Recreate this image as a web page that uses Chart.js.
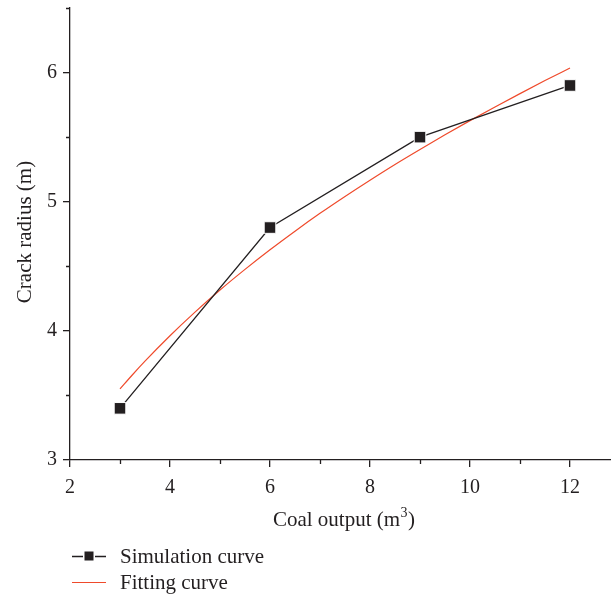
<!DOCTYPE html>
<html>
<head>
<meta charset="utf-8">
<script src="https://cdn.jsdelivr.net/npm/chart.js@4"></script>
<style>
html,body{margin:0;padding:0;background:#fff;}
#wrap{position:relative;width:611px;height:599px;}
</style>
</head>
<body>
<div id="wrap"><canvas id="c" width="611" height="599"></canvas></div>
<script>
// ---- data ----
const simX = [3, 6, 9, 12];
const simY = [3.40, 4.80, 5.50, 5.90];
const fitX = [3, 3.25, 3.5, 4, 4.5, 5, 5.5, 6, 6.5, 7, 7.5, 8, 8.5, 9, 9.5, 10, 10.5, 11, 11.5, 12];
const fitY = [3.55, 3.66, 3.765, 3.962, 4.145, 4.316, 4.476, 4.628, 4.772, 4.91, 5.041, 5.167, 5.289, 5.405, 5.518, 5.628, 5.734, 5.837, 5.938, 6.035];
const xTickValues = [2, 4, 6, 8, 10, 12];
const xMinorValues = [3, 5, 7, 9, 11];
const yTickValues = [3, 4, 5, 6];
const yMinorValues = [3.5, 4.5, 5.5, 6.5];
const seriesNames = ['Simulation curve', 'Fitting curve'];
const xTitle = 'Coal output (m';
const xTitleSup = '3';
const yTitle = 'Crack radius (m)';

const INK = '#231f20';
const RED = '#ef4a2b';
const FONT = 'Liberation Serif';

const extras = {
  id: 'extras',
  afterDraw(chart) {
    const ctx = chart.ctx;
    const xs = chart.scales.x, ys = chart.scales.y;
    const area = chart.chartArea;
    ctx.save();
    ctx.strokeStyle = INK;
    ctx.lineWidth = 1.3;
    ctx.beginPath();
    xMinorValues.forEach(v => {
      const px = Math.round(xs.getPixelForValue(v)) + 0.5;
      ctx.moveTo(px, area.bottom);
      ctx.lineTo(px, area.bottom + 4);
    });
    yMinorValues.forEach(v => {
      const py = Math.round(ys.getPixelForValue(v)) + 0.5;
      ctx.moveTo(area.left, py);
      ctx.lineTo(area.left - 4, py);
    });
    ctx.stroke();

    // x tick labels
    ctx.fillStyle = INK;
    ctx.font = '20px "' + FONT + '"';
    ctx.textAlign = 'center';
    ctx.textBaseline = 'alphabetic';
    xTickValues.forEach(v => {
      ctx.fillText(String(v), xs.getPixelForValue(v), 493);
    });

    // axis titles
    ctx.font = '21px "' + FONT + '"';
    ctx.textAlign = 'left';
    const mainW = ctx.measureText(xTitle).width;
    ctx.font = '14px "' + FONT + '"';
    const supW = ctx.measureText(xTitleSup).width;
    ctx.font = '21px "' + FONT + '"';
    const parW = ctx.measureText(')').width;
    const total = mainW + supW + parW + 1;
    let sx = 344 - total / 2;
    const by = 526;
    ctx.fillText(xTitle, sx, by);
    ctx.font = '14px "' + FONT + '"';
    ctx.fillText(xTitleSup, sx + mainW + 0.5, by - 9);
    ctx.font = '21px "' + FONT + '"';
    ctx.fillText(')', sx + mainW + supW + 1, by);

    ctx.save();
    ctx.translate(31, 232);
    ctx.rotate(-Math.PI / 2);
    ctx.textAlign = 'center';
    ctx.fillText(yTitle, 0, 0);
    ctx.restore();

    // legend
    const ly1 = 556, ly2 = 582;
    ctx.lineWidth = 1.3;
    ctx.strokeStyle = INK;
    ctx.beginPath();
    ctx.moveTo(72, ly1 + 0.5); ctx.lineTo(106, ly1 + 0.5);
    ctx.stroke();
    ctx.fillStyle = '#fff';
    ctx.fillRect(83, ly1 - 6, 12, 12);
    ctx.fillStyle = INK;
    ctx.fillRect(84.5, ly1 - 4.5, 9, 9);
    ctx.strokeStyle = RED;
    ctx.lineWidth = 1.2;
    ctx.beginPath();
    ctx.moveTo(72, ly2 + 0.5); ctx.lineTo(106, ly2 + 0.5);
    ctx.stroke();
    ctx.fillStyle = INK;
    ctx.font = '21px "' + FONT + '"';
    ctx.textBaseline = 'middle';
    ctx.textAlign = 'left';
    ctx.fillText(seriesNames[0], 120, ly1 + 1);
    ctx.fillText(seriesNames[1], 120, ly2 + 1);
    ctx.restore();
  }
};

const ctx = document.getElementById('c').getContext('2d');
new Chart(ctx, {
  type: 'scatter',
  data: {
    datasets: [
      {
        label: seriesNames[0],
        data: simX.map((x, i) => ({x, y: simY[i]})),
        showLine: true,
        borderColor: INK,
        borderWidth: 1.3,
        pointStyle: 'rect',
        pointRadius: 8.2,
        pointBackgroundColor: INK,
        pointBorderColor: '#fff',
        pointBorderWidth: 1,
        pointHoverRadius: 8.2
      },
      {
        label: seriesNames[1],
        data: fitX.map((x, i) => ({x, y: fitY[i]})),
        showLine: true,
        borderColor: RED,
        borderWidth: 1.2,
        pointRadius: 0,
        cubicInterpolationMode: 'monotone'
      }
    ]
  },
  options: {
    responsive: false,
    animation: false,
    events: [],
    layout: { autoPadding: false, padding: { top: 8, right: 0, bottom: 99, left: 0 } },
    plugins: { legend: { display: false }, tooltip: { enabled: false } },
    scales: {
      x: {
        type: 'linear',
        min: 2, max: 12.82,
        afterFit(s) { s.height = 40; },
        afterBuildTicks(s) { s.ticks = xTickValues.map(v => ({value: v})); },
        ticks: { display: false },
        grid: { display: true, drawOnChartArea: false, drawTicks: true, tickLength: 7, color: INK, lineWidth: 1.3 },
        border: { display: true, color: INK, width: 1.3 }
      },
      y: {
        type: 'linear',
        min: 3, max: 6.5,
        afterFit(s) { s.width = 70; s.paddingTop = 0; s.paddingBottom = 0; },
        afterBuildTicks(s) { s.ticks = yTickValues.map(v => ({value: v})); },
        ticks: { font: { family: FONT, size: 20 }, color: INK, padding: 6, autoSkip: false },
        grid: { display: true, drawOnChartArea: false, drawTicks: true, tickLength: 7, color: INK, lineWidth: 1.3 },
        border: { display: true, color: INK, width: 1.3 }
      }
    }
  },
  plugins: [extras]
});
</script>
</body>
</html>
